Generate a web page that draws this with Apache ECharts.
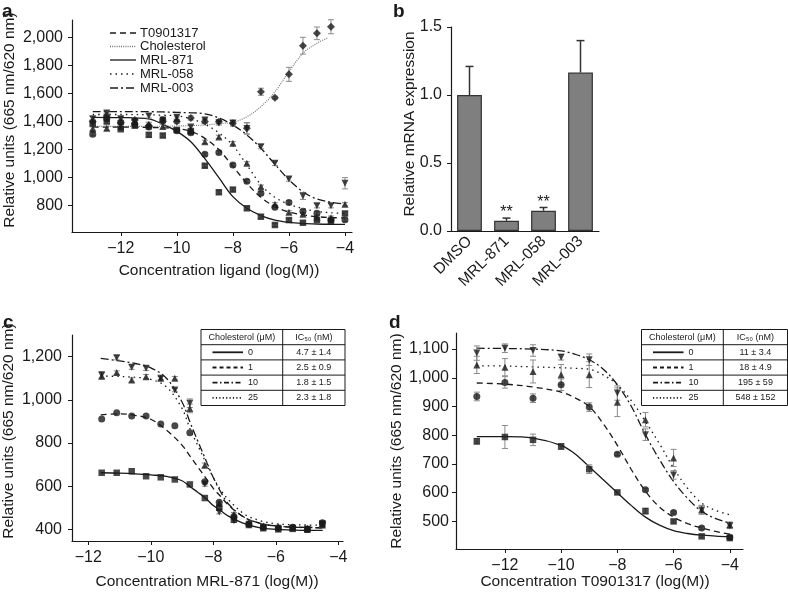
<!DOCTYPE html>
<html><head><meta charset="utf-8">
<script src="https://cdn.jsdelivr.net/npm/echarts@6/dist/echarts.min.js"></script>
<style>html,body{margin:0;padding:0;background:#fff}#c{width:788px;height:597px}</style>
</head><body><div id="c"></div><script>
// ---------- Panel a data ----------
const aX = [-13,-12.5,-12,-11.5,-11,-10.5,-10,-9.5,-9,-8.5,-8,-7.5,-7,-6.5,-6,-5.5,-5,-4.5,-4];
const aT0901317 = [1309,1420,1395,1380,1360,1410,1335,1320,1166,1180,1090,975,889,790,824,760,746,700,700];
const aMRL871   = [1385,1400,1345,1370,1305,1300,1340,1330,1085,896,915,782,722,663,698,679,700,690,745];
const aMRL058   = [1350,1352,1365,1400,1380,1365,1420,1340,1255,1290,1245,1102,936,810,753,739,720,715,810];
const aMRL003   = [1420,1460,1420,1400,1440,1410,1430,1360,1410,1390,1390,1350,1221,1102,990,870,800,800,960];
const aCholX    = [-13,-12.5,-12,-11.5,-11,-10.5,-10,-9.5,-9,-8.5,-8,-7.5,-7,-6.5,-6,-5.5,-5,-4.5];
const aChol     = [1400,1440,1390,1410,1370,1400,1400,1425,1400,1399,1387,1352,1612,1570,1736,1940,2028,2075];
const aErrChol  = [15,20,15,15,20,15,15,15,15,15,20,40,25,10,50,60,45,50];
const aErr003   = [15,15,15,15,15,15,15,15,15,15,15,40,15,15,15,25,15,15,40];
const aErrSmall = [12,15,12,12,15,12,12,12,12,12,12,12,12,12,12,12,12,12,12];
// fitted curves
const aCurveX      = [-13,-12,-11,-10.5,-10,-9.5,-9,-8.5,-8,-7.5,-7,-6.5,-6,-5.5,-5,-4.5,-4];
const aCurve871    = [1430,1428,1418,1380,1330,1256,1135,1000,865,782,730,698,682,674,670,668,667];
const aCurveT09    = [1360,1360,1358,1355,1350,1330,1280,1200,1080,960,860,795,755,735,722,716,713];
const aCurve058    = [1450,1450,1448,1445,1440,1420,1380,1320,1230,1090,950,860,810,780,760,750,745];
const aCurve003    = [1470,1470,1470,1468,1465,1462,1455,1425,1375,1304,1209,1095,985,900,848,825,812];
const aCholCurveX  = [-13,-11,-10,-9,-8.5,-8,-7.5,-7,-6.5,-6,-5.5,-5,-4.6];
const aCholCurve   = [1365,1365,1368,1375,1385,1395,1434,1506,1612,1755,1886,1957,1997];
const aLegend = ['T0901317','Cholesterol','MRL-871','MRL-058','MRL-003'];
const aYTicks = [800,1000,1200,1400,1600,1800,2000];
const xTicksA = [-12,-10,-8,-6,-4];

// ---------- Panel b data ----------
const bCats = ['DMSO','MRL-871','MRL-058','MRL-003'];
const bVals = [1.0,0.075,0.149,1.165];
const bErr  = [0.21,0.02,0.024,0.235];
const bSig  = ['','**','**',''];

// ---------- Panel c data ----------
const cX   = [-11.57,-11.09,-10.61,-10.15,-9.68,-9.23,-8.75,-8.27,-7.81,-7.34,-6.86,-6.40,-5.92,-5.46,-4.99,-4.51];
const c0   = [662,662,669,646,641,631,608,545,500,445,420,405,400,402,398,425];
const c1   = [911,940,925,925,888,880,847,620,525,460,425,410,405,410,400,430];
const c10  = [1115,1195,1151,1146,1100,1045,984,610,480,440,420,410,403,405,400,425];
const c25  = [1110,1126,1092,1107,1100,1100,960,697,520,470,430,415,412,410,405,420];
const cErr10 = [15,10,10,10,8,8,20,10,8,8,8,8,8,8,8,12];
const cErr25 = [15,8,10,10,8,8,20,10,8,8,8,8,8,8,8,12];
const cCurveX = [-11.6,-11,-10.5,-10,-9.5,-9,-8.75,-8.5,-8.25,-8,-7.75,-7.5,-7,-6.5,-6,-5.5,-5,-4.5];
const cCurve0  = [662,660,657,652,645,625,598,572,545,510,485,460,426,407,400,397,395,395];
const cCurve1  = [930,935,928,910,860,790,740,690,640,590,550,510,455,428,415,410,408,407];
const cCurve10 = [1192,1180,1168,1148,1100,990,898,810,725,640,570,515,455,428,416,411,409,408];
const cCurve25 = [1110,1108,1104,1095,1060,960,868,790,713,640,580,535,470,440,426,421,420,419];
const cYTicks = [400,600,800,1000,1200];
const cholConc = ['0','1','10','25'];
const cIC50 = ['4.7 \u00b1 1.4','2.5 \u00b1 0.9','1.8 \u00b1 1.5','2.3 \u00b1 1.8'];

// ---------- Panel d data ----------
const dX  = [-13,-12,-11,-10,-9,-8,-7,-6,-5,-4];
const d0  = [779,794,784,761,682,601,536,500,448,442];
const d1  = [935,984,929,976,898,734,610,531,477,445];
const d10 = [1086,1103,1095,1072,1063,947,802,662,540,485];
const d25 = [1045,1037,1022,1011,1011,915,854,721,541,488];
const dErr0  = [10,40,20,10,15,5,10,5,5,5];
const dErr1  = [15,20,15,20,15,5,5,5,5,5];
const dErr10 = [25,15,20,10,20,25,20,15,15,10];
const dErr25 = [30,30,40,35,45,50,25,30,15,10];
const dCurveX = [-13,-12,-11,-10,-9.5,-9,-8.5,-8,-7.5,-7,-6.5,-6,-5.5,-5,-4.5,-4];
const dCurve0  = [795,795,790,765,735,690,645,600,555,515,487,468,458,452,449,447];
const dCurve1  = [982,978,968,950,930,900,840,765,680,605,550,515,492,477,465,456];
const dCurve10 = [1103,1102,1100,1094,1082,1063,1030,976,900,802,715,639,580,535,510,494];
const dCurve25 = [1042,1041,1038,1035,1033,1030,1010,976,920,848,770,686,615,564,538,523];
const dYTicks = [500,600,700,800,900,1000,1100];
const dIC50 = ['11 \u00b1 3.4','18 \u00b1 4.9','195 \u00b1 59','548 \u00b1 152'];

// ---------- helpers ----------
const FONT = '"Liberation Sans", Arial, Helvetica, sans-serif';
const INK = '#1a1a1a';
const pair = (xs, ys) => xs.map((x, i) => [x, ys[i]]);
const triple = (xs, ys, es) => xs.map((x, i) => [x, ys[i], es[i]]);
const minus = v => (v < 0 ? '\u2212' : '') + Math.abs(v);
const thousands = v => v >= 1000 ? Math.floor(v / 1000) + ',' + String(v % 1000).padStart(3, '0') : String(v);
const DASH = [6, 4], DOT = [1.5, 4], DASHDOT = [8, 3, 2, 3], FINE = [1, 1.2];

function xAxisVal(gi, min, max, ticks) {
  return {type:'value', gridIndex:gi, min, max,
    axisLine:{show:true, onZero:false, lineStyle:{color:INK, width:1.2}},
    axisTick:{show:true, inside:false, length:4, customValues:ticks, lineStyle:{color:INK}},
    axisLabel:{customValues:ticks, formatter:minus, color:INK, fontSize:16, fontFamily:FONT, margin:9},
    splitLine:{show:false}};
}
function yAxisVal(gi, min, max, ticks, fmt, margin) {
  return {type:'value', gridIndex:gi, min, max,
    axisLine:{show:true, onZero:false, lineStyle:{color:INK, width:1.2}},
    axisTick:{show:true, inside:false, length:4, customValues:ticks, lineStyle:{color:INK}},
    axisLabel:{customValues:ticks, formatter:fmt, color:INK, fontSize:16, fontFamily:FONT, margin:margin},
    splitLine:{show:false}};
}
function curve(i, xs, ys, dash, color, width) {
  return {type:'line', xAxisIndex:i, yAxisIndex:i, data:pair(xs, ys), smooth:0.35, showSymbol:false,
    silent:true, z:2, lineStyle:{color:color||INK, width:width||1.3, type:dash||'solid'}};
}
function pts(i, xs, ys, symbol, rot, size) {
  return {type:'scatter', xAxisIndex:i, yAxisIndex:i, data:pair(xs, ys), symbol, symbolRotate:rot||0,
    symbolSize:size||7, z:4, itemStyle:{color:INK}};
}
function errs(i, xs, ys, es) {
  return {type:'custom', xAxisIndex:i, yAxisIndex:i, data:triple(xs, ys, es), z:3, silent:true,
    renderItem:function(params, api){
      const x = api.value(0), y = api.value(1), e = api.value(2);
      const lo = api.coord([x, y - e]), hi = api.coord([x, y + e]);
      const w = 3, st = {stroke:'#8a8a8a', lineWidth:1};
      return {type:'group', children:[
        {type:'line', shape:{x1:lo[0], y1:lo[1], x2:hi[0], y2:hi[1]}, style:st},
        {type:'line', shape:{x1:lo[0]-w, y1:lo[1], x2:lo[0]+w, y2:lo[1]}, style:st},
        {type:'line', shape:{x1:hi[0]-w, y1:hi[1], x2:hi[0]+w, y2:hi[1]}, style:st}]};
    }};
}

// ---------- graphics (legend, tables, titles, panel letters) ----------
const G = [];
function text(x, y, t, o) {
  G.push({type:'text', x, y, rotation:(o && o.rot) || 0, z:10,
    style:{text:t, fill:INK, font:((o && o.font) || '16px') + ' ' + FONT,
      align:(o && o.align) || 'left', verticalAlign:'middle'}});
}
function line(x1, y1, x2, y2, dash, color, w) {
  G.push({type:'line', z:10, shape:{x1, y1, x2, y2},
    style:{stroke:color||INK, lineWidth:w||1.2, lineDash:dash||null}});
}
// panel letters
text(2, 12, 'a', {font:'bold 19px'});
text(393, 12, 'b', {font:'bold 19px'});
text(3, 323, 'c', {font:'bold 19px'});
text(389, 323, 'd', {font:'bold 19px'});
// axis titles
text(10, 120, 'Relative units (665 nm/620 nm)', {rot:Math.PI/2, align:'center', font:'15.5px'});
text(219, 271, 'Concentration ligand (log(M))', {align:'center', font:'15.5px'});
text(410, 124, 'Relative mRNA expression', {rot:Math.PI/2, align:'center', font:'15.5px'});
text(9, 431, 'Relative units (665 nm/620 nm)', {rot:Math.PI/2, align:'center', font:'15.5px'});
text(207, 582, 'Concentration MRL-871 (log(M))', {align:'center', font:'15.5px'});
text(397, 441, 'Relative units (665 nm/620 nm)', {rot:Math.PI/2, align:'center', font:'15.5px'});
text(595, 582, 'Concentration T0901317 (log(M))', {align:'center', font:'15.5px'});
// panel a legend
const aLegendDash = [DASH, FINE, null, DOT, DASHDOT];
const aLegendColor = [INK, '#777', INK, INK, INK];
const aLegendY = [33, 46.5, 60, 74, 88];
aLegend.forEach((name, i) => {
  line(110, aLegendY[i], 136, aLegendY[i], aLegendDash[i], aLegendColor[i], 1.3);
  text(140, aLegendY[i], name, {font:'13px'});
});
// tables
function table(x0, x1, xd, y0, ic) {
  const rh = 15.2;
  G.push({type:'rect', z:10, shape:{x:x0, y:y0, width:x1-x0, height:rh*5},
    style:{fill:'#fff', stroke:INK, lineWidth:1}});
  for (let r = 1; r < 5; r++) line(x0, y0 + rh*r, x1, y0 + rh*r, null, INK, 1);
  line(xd, y0, xd, y0 + rh*5, null, INK, 1);
  text((x0 + xd)/2, y0 + rh/2, 'Cholesterol (\u03bcM)', {align:'center', font:'9px'});
  text((xd + x1)/2, y0 + rh/2, 'IC\u2085\u2080 (nM)', {align:'center', font:'9px'});
  const dashes = [null, [4,3], [5,2.5,1.5,2.5], [1.2,2.2]];
  const lx0 = x0 + 11.5, lx1 = x0 + 42;
  for (let r = 0; r < 4; r++) {
    const yc = y0 + rh*(r + 1.5);
    line(lx0, yc, lx1, yc, dashes[r], INK, 1.8);
    text(lx1 + 5, yc, cholConc[r], {font:'9px'});
    text((xd + x1)/2, yc, ic[r], {align:'center', font:'9px'});
  }
}
table(201, 345, 282.7, 329.5, cIC50);
table(641.5, 787.5, 723.3, 329.5, dIC50);

// ---------- chart ----------
const chart = echarts.init(document.getElementById('c'), null, {renderer:'canvas'});
chart.setOption({
  animation:false,
  backgroundColor:'#fff',
  grid:[
    {left:72, top:20, width:280, height:212},
    {left:451, top:27, width:148, height:204},
    {left:72, top:335, width:271, height:206},
    {left:456, top:333, width:287, height:216}
  ],
  xAxis:[
    xAxisVal(0, -13.74, -3.75, xTicksA),
    {type:'category', gridIndex:1, data:bCats,
      axisLine:{lineStyle:{color:INK, width:1.2}},
      axisTick:{alignWithLabel:true, length:4, lineStyle:{color:INK}},
      axisLabel:{rotate:45, color:INK, fontSize:15.5, fontFamily:FONT, margin:8, interval:0}},
    xAxisVal(2, -12.52, -3.85, [-12,-10,-8,-6,-4]),
    xAxisVal(3, -13.74, -3.53, [-12,-10,-8,-6,-4])
  ],
  yAxis:[
    yAxisVal(0, 613, 2123, aYTicks, thousands, 9),
    {type:'value', gridIndex:1, min:0, max:1.5, interval:0.5,
      axisLine:{show:true, lineStyle:{color:INK, width:1.2}},
      axisTick:{show:true, length:4, lineStyle:{color:INK}},
      axisLabel:{formatter:v => v.toFixed(1), color:INK, fontSize:16, fontFamily:FONT, margin:9},
      splitLine:{show:false}},
    yAxisVal(2, 346, 1300, cYTicks, thousands, 10),
    yAxisVal(3, 404, 1156, dYTicks, thousands, 7)
  ],
  series:[
    // panel a
    curve(0, aCholCurveX, aCholCurve, FINE, '#777', 1.2),
    curve(0, aCurveX, aCurveT09, DASH),
    curve(0, aCurveX, aCurve871, 'solid'),
    curve(0, aCurveX, aCurve058, DOT),
    curve(0, aCurveX, aCurve003, DASHDOT),
    errs(0, aCholX, aChol, aErrChol),
    errs(0, aX, aMRL003, aErr003),
    errs(0, aX, aMRL058, aErrSmall),
    errs(0, aX, aT0901317, aErrSmall),
    errs(0, aX, aMRL871, aErrSmall),
    pts(0, aCholX, aChol, 'diamond', 0, 8),
    pts(0, aX, aT0901317, 'circle'),
    pts(0, aX, aMRL871, 'rect', 0, 6.5),
    pts(0, aX, aMRL058, 'triangle'),
    pts(0, aX, aMRL003, 'triangle', 180),
    // panel b
    {type:'bar', xAxisIndex:1, yAxisIndex:1, data:bVals, barCategoryGap:'33%', z:2,
      itemStyle:{color:'#7f7f7f', borderColor:'#333', borderWidth:1.2}},
    {type:'custom', xAxisIndex:1, yAxisIndex:1, z:3, silent:true,
      data:bVals.map((v, i) => [i, v, bErr[i]]),
      renderItem:function(params, api){
        const i = api.value(0), v = api.value(1), e = api.value(2);
        const b = api.coord([i, v]), t = api.coord([i, v + e]);
        const st = {stroke:'#333', lineWidth:1.5};
        const kids = [
          {type:'line', shape:{x1:b[0], y1:b[1], x2:t[0], y2:t[1]}, style:st},
          {type:'line', shape:{x1:t[0]-4, y1:t[1], x2:t[0]+4, y2:t[1]}, style:st}];
        const s = bSig[params.dataIndex];
        if (s) kids.push({type:'text', style:{text:s, x:t[0], y:t[1]-5, align:'center',
          verticalAlign:'middle', font:'16px ' + FONT, fill:INK}});
        return {type:'group', children:kids};
      }},
    // panel c
    curve(2, cCurveX, cCurve0, 'solid'),
    curve(2, cCurveX, cCurve1, DASH),
    curve(2, cCurveX, cCurve10, DASHDOT),
    curve(2, cCurveX, cCurve25, DOT),
    errs(2, cX, c10, cErr10),
    errs(2, cX, c25, cErr25),
    pts(2, cX, c0, 'rect', 0, 6.5),
    pts(2, cX, c1, 'circle'),
    pts(2, cX, c10, 'triangle', 180),
    pts(2, cX, c25, 'triangle'),
    // panel d
    curve(3, dCurveX, dCurve0, 'solid'),
    curve(3, dCurveX, dCurve1, DASH),
    curve(3, dCurveX, dCurve10, DASHDOT),
    curve(3, dCurveX, dCurve25, DOT),
    errs(3, dX, d0, dErr0),
    errs(3, dX, d1, dErr1),
    errs(3, dX, d10, dErr10),
    errs(3, dX, d25, dErr25),
    pts(3, dX, d0, 'rect', 0, 6.5),
    pts(3, dX, d1, 'circle'),
    pts(3, dX, d10, 'triangle', 180),
    pts(3, dX, d25, 'triangle')
  ],
  graphic:G
});
</script></body></html>
